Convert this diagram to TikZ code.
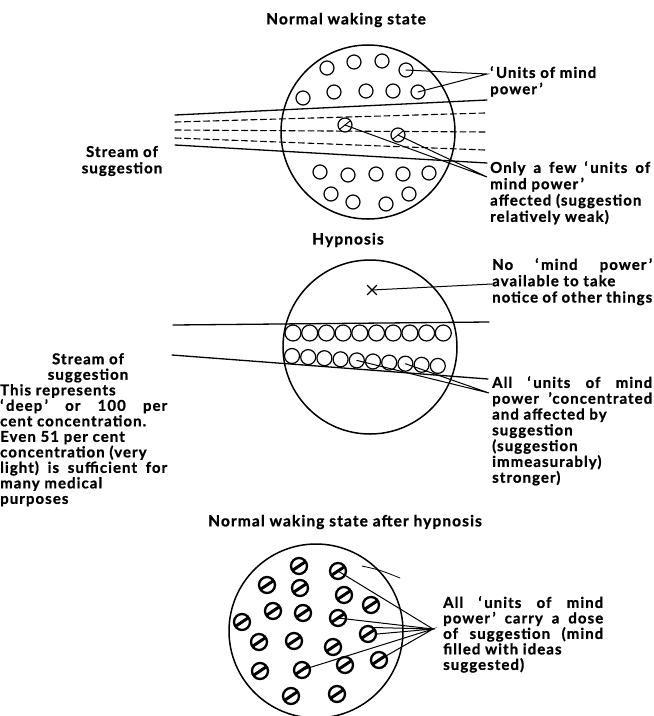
\documentclass[tikz,border=0pt]{standalone}
\usepackage{fontspec}
\setmainfont[LetterSpace=7, BoldFeatures={FakeBold=1}]{Lato}
\usetikzlibrary{shapes.misc}

\newcommand{\full}[2][160pt]{\makebox[#1][s]{#2}}

\tikzset{
  mind/.style={draw, circle, line width=1.5pt, minimum size=174pt, inner sep=0pt},
  unit/.style={draw, circle, line width=1.2pt, minimum size=14pt, inner sep=0pt, fill=white},
  hit/.style={unit, path picture={\draw[line width=1pt] (path picture bounding box.center) ++(-5pt,-4pt) -- ++(10pt,8pt);}},
  cell/.style={draw, circle, line width=1.2pt, minimum size=16pt, inner sep=0pt},
  dose/.style={draw, circle, line width=2.3pt, minimum size=16pt, inner sep=0pt, fill=white,
    path picture={\draw[line width=3pt] (path picture bounding box.center) ++(-6pt,-4pt) -- ++(12pt,8pt);}},
  stream/.style={line width=1.3pt},
  pointer/.style={line width=1pt},
  head/.style={font=\bfseries\fontsize{15.5}{17}\selectfont},
  lab/.style={anchor=north west, inner sep=0pt, align=left, font=\bfseries\fontsize{15}{16.3}\selectfont}
}

\begin{document}
\begin{tikzpicture}[x=1pt, y=-1pt, line cap=round]
\useasboundingbox (0,0) rectangle (654,716);

% normal waking state
\node[head] (t1) at (346,20) {Normal waking state};
\node[mind] (m1) at (368,132) {};

\draw[stream] (175,115) -- (487,100);
\draw[stream] (175,145) -- (487,163);
\foreach \ya/\yb in {122/113,130/132,138/150}
  \draw[line width=1.1pt, dash pattern=on 6pt off 3.5pt] (175,\ya) -- (485,\yb);

\foreach \x/\y [count=\n] in {327/68,354/62,382/61,406/70,303/98,334/92,366/91,393/91,418/92,
  320/172,348/175,376/174,403/174,429/173,331/194,353/202,386/204,409/194}
  \node[unit] (u\n) at (\x,\y) {};
\node[hit] (c1) at (345,125) {};
\node[hit] (c2) at (398,135) {};

\coordinate (p1) at (487,74);
\coordinate (p2) at (487,177);
\draw[pointer] (u4.center) -- (p1) -- (u9.center);
\draw[pointer] (c1.center) -- (p2) -- (c2.center);

\node[lab, align=center, anchor=center] (s1) at (122,161) {Stream of\\suggestion};
\node[lab] (l1) at (490,66) {‘\,Units of mind\\power\,’};
\node[lab] (l2) at (490,161) {\full{Only a few ‘\,units of}\\mind power\,’\\affected (suggestion\\relatively weak)};

% hypnosis
\node[head] (t2) at (348,240) {Hypnosis};
\node[mind] (m2) at (370,347) {};
\node[draw, cross out, line width=1.2pt, minimum size=8pt, inner sep=0pt] (xm) at (372,290) {};

\draw[stream] (173,325) -- (489,322);
\draw[stream] (172,355) -- (488,379);
\foreach \i in {0,...,9}
  \node[cell] (h\i) at ({293+16.7*\i},333) {};
\foreach \i in {0,...,9}
  \node[cell, minimum size=15pt] (k\i) at ({292+16.2*\i},{356+1.1*\i}) {};

\coordinate (p3) at (492,284);
\coordinate (p4) at (489,393);
\draw[pointer] (xm.center) -- (p3);
\draw[pointer] (k4.center) -- (p4) -- (k7.center);

\node[lab, align=center, anchor=north, font=\bfseries\fontsize{15}{15.5}\selectfont] (s2) at (88,353) {Stream of\\suggestion};
\node[lab, font=\bfseries\fontsize{15}{15.5}\selectfont] (l3) at (0,384) {This represents\\\full[167pt]{‘\,deep\,’ or 100 per}\\cent concentration.\\Even 51 per cent\\concentration (very\\\full[167pt]{light) is sufficient for}\\many medical\\purposes};
\node[lab] (l4) at (492,258) {\full{No ‘\,mind power\,’}\\available to take\\\full{notice of other things}};
\node[lab, font=\bfseries\fontsize{15}{15.8}\selectfont] (l5) at (492,376) {\full{All ‘\,units of mind}\\\full{power ’concentrated}\\and affected by\\suggestion\\(suggestion\\immeasurably)\\stronger)};

% normal waking state after hypnosis
\node[head] (t3) at (345,522) {Normal waking state after hypnosis};
\node[mind] (m3) at (316,631) {};
\foreach \x/\y [count=\n] in {299/566,338/571,267/585,300/588,344/595,371/605,273/611,303/613,338/618,242/622,
  368/634,259/642,294/641,333/647,379/660,260/671,302/670,345/665,291/696,337/694}
  \node[dose] (d\n) at (\x,\y) {};

\coordinate (p5) at (433,629);
\draw[pointer] (d2.center) -- (p5) -- (d9.center);
\draw[pointer] (d11.north east) -- (p5) -- (d11.east);
\draw[pointer] (d17.center) -- (p5) -- (d15.center);
\draw[line width=0.8pt] (362,566) .. controls (380,570) .. (400,578);

\node[lab, font=\bfseries\fontsize{15}{15.5}\selectfont] (l6) at (443,596) {\full{All ‘\,units of mind}\\\full{power\,’ carry a dose}\\\full{of suggestion (mind}\\filled with ideas\\suggested)};

\end{tikzpicture}
\end{document}
